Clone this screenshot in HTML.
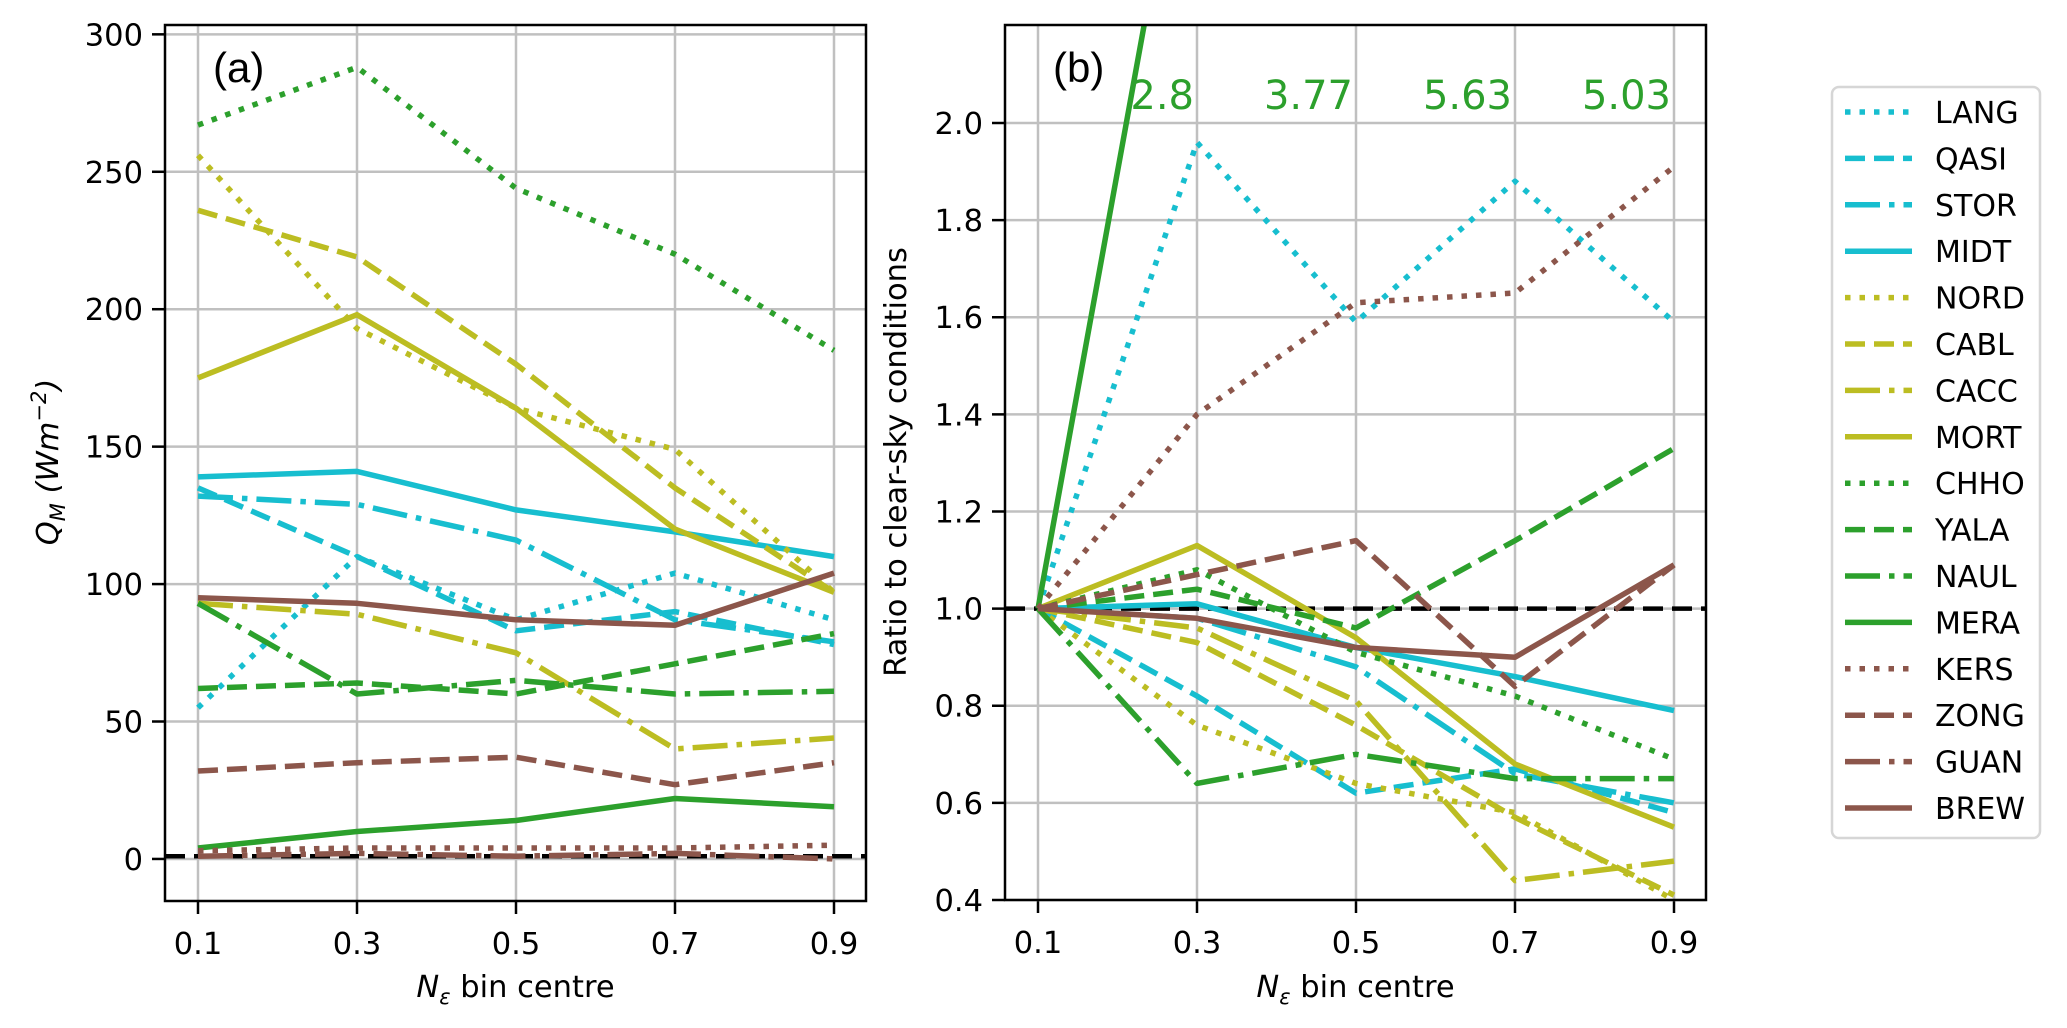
<!DOCTYPE html>
<html><head><meta charset="utf-8"><style>
html,body{margin:0;padding:0;background:#fff;}
svg{display:block;font-family:"DejaVu Sans","Liberation Sans",sans-serif;}
</style></head><body>
<svg id="fig" width="2067" height="1028" xmlns="http://www.w3.org/2000/svg"></svg>
<script>
const categories=[0.1,0.3,0.5,0.7,0.9];
const seriesNames=["LANG","QASI","STOR","MIDT","NORD","CABL","CACC","MORT","CHHO","YALA","NAUL","MERA","KERS","ZONG","GUAN","BREW"];
const qmLANG=[55,110,87,104,87];
const qmQASI=[135,110,83,90,78];
const qmSTOR=[132,129,116,87,79];
const qmMIDT=[139,141,127,119,110];
const qmNORD=[256,193,164,149,97];
const qmCABL=[236,219,180,135,97];
const qmCACC=[93,89,75,40,44];
const qmMORT=[175,198,164,120,97];
const qmCHHO=[267,288,244,220,185];
const qmYALA=[62,64,60,71,82];
const qmNAUL=[93,60,65,60,61];
const qmMERA=[4,10,14,22,19];
const qmKERS=[3,4,4,4,5];
const qmZONG=[32,35,37,27,35];
const qmGUAN=[1,2,1,2,0];
const qmBREW=[95,93,87,85,104];
const rLANG=[1,1.96,1.59,1.88,1.59];
const rQASI=[1,0.82,0.62,0.67,0.58];
const rSTOR=[1,0.98,0.88,0.66,0.60];
const rMIDT=[1,1.01,0.92,0.86,0.79];
const rNORD=[1,0.76,0.64,0.58,0.40];
const rCABL=[1,0.93,0.76,0.57,0.41];
const rCACC=[1,0.96,0.81,0.44,0.48];
const rMORT=[1,1.13,0.94,0.68,0.55];
const rCHHO=[1,1.08,0.91,0.82,0.69];
const rYALA=[1,1.04,0.96,1.14,1.33];
const rNAUL=[1,0.64,0.70,0.65,0.65];
const rMERA=[1,2.8,3.77,5.63,5.03];
const rKERS=[1,1.40,1.63,1.65,1.91];
const rZONG=[1,1.07,1.14,0.84,1.09];
const rGUAN=[null,null,null,null,null];
const rBREW=[1,0.98,0.92,0.90,1.09];
const meraLabels=["2.8","3.77","5.63","5.03"];
const ticksA=[0,50,100,150,200,250,300];
const ticksB=[0.4,0.6,0.8,1.0,1.2,1.4,1.6,1.8,2.0];

const qm=[qmLANG,qmQASI,qmSTOR,qmMIDT,qmNORD,qmCABL,qmCACC,qmMORT,qmCHHO,qmYALA,qmNAUL,qmMERA,qmKERS,qmZONG,qmGUAN,qmBREW];
const rr=[rLANG,rQASI,rSTOR,rMIDT,rNORD,rCABL,rCACC,rMORT,rCHHO,rYALA,rNAUL,rMERA,rKERS,rZONG,rGUAN,rBREW];
const cols=["#17becf","#bcbd22","#2ca02c","#8c564b"];
const dashes=["5.5 9","20 9","35 9 5.5 9",""];
const NS="http://www.w3.org/2000/svg";
const svg=document.getElementById('fig');
function el(tag,attrs,parent){const e=document.createElementNS(NS,tag);for(const k in attrs)e.setAttribute(k,attrs[k]);(parent||svg).appendChild(e);return e;}

function panel(p){
  const g=el('g',{});
  
  
  const X=v=>p.x0+(v-0.1)/0.8*(p.x1-p.x0);
  const Y=v=>p.yb-(v-p.ymin)/(p.ymax-p.ymin)*(p.yb-p.yt);
  const cid='clip'+p.id;
  const cp=el('clipPath',{id:cid},g);
  el('rect',{x:p.L,y:p.yt,width:p.R-p.L,height:p.yb-p.yt},cp);
  categories.forEach(c=>{const l=el('line',{x1:X(c),x2:X(c),y1:p.yt,y2:p.yb,stroke:'#c0c0c0','stroke-width':2.5},g);
    
    const t=el('text',{x:X(c),y:p.yb+53,'font-size':30.5,'text-anchor':'middle',fill:'#000'},g);t.textContent=c.toFixed(1);
    
    el('line',{x1:X(c),x2:X(c),y1:p.yb,y2:p.yb+13,stroke:'#000','stroke-width':2.5},g);});
  p.ticks.forEach(v=>{const y=Y(v);const l=el('line',{x1:p.L,x2:p.R,y1:y,y2:y,stroke:'#c0c0c0','stroke-width':2.5},g);
    
    el('line',{x1:p.L-13,x2:p.L,y1:y,y2:y,stroke:'#000','stroke-width':2.5},g);
    const t=el('text',{x:p.L-22,y:y+11,'font-size':30.5,'text-anchor':'end',fill:'#000'},g);t.textContent=p.fmt(v);
    });
  const ref=el('line',{x1:p.L,x2:p.R,y1:Y(p.ref),y2:Y(p.ref),stroke:'#000','stroke-width':4.5,'stroke-dasharray':'20 9'},g);
  
  const lg=el('g',{'clip-path':'url(#'+cid+')'},g);
  p.data.forEach((arr,i)=>{
    const pts=[];arr.forEach((v,j)=>{if(v!==null)pts.push(X(categories[j]).toFixed(1)+','+Y(v).toFixed(1));});
    if(pts.length<2)return;
    const a={points:pts.join(' '),fill:'none',stroke:cols[Math.floor(i/4)],'stroke-width':5.5,'stroke-linejoin':'round'};
    if(dashes[i%4])a['stroke-dasharray']=dashes[i%4];
    const pl=el('polyline',a,lg);
    
    
  });
  const fr=el('rect',{x:p.L,y:p.yt,width:p.R-p.L,height:p.yb-p.yt,fill:'none',stroke:'#000','stroke-width':2.5},g);
  
  const pl=el('text',{x:p.L+48,y:p.yt+57,'font-size':42,fill:'#000','font-family':'Liberation Sans, sans-serif'},g);pl.textContent=p.label;
  
  const xt=el('text',{x:(p.L+p.R)/2,y:997,'font-size':30.5,'text-anchor':'middle',fill:'#000'},g);
  xt.innerHTML='<tspan font-style="italic">N</tspan><tspan font-style="italic" font-size="21" dy="7">ε</tspan><tspan dy="-7"> bin centre</tspan>';
  
  return {X,Y,g};
}
const A=panel({id:'a',name:'panel-a',L:165,R:866,x0:198,x1:834,yt:25,yb:901,ymin:-15.3,ymax:303.4,ticks:ticksA,fmt:v=>String(v),ref:1,data:qm,label:'(a)'});
const B=panel({id:'b',name:'panel-b',L:1005,R:1706,x0:1038,x1:1674,yt:25,yb:900,ymin:0.4,ymax:2.2018,ticks:ticksB,fmt:v=>v.toFixed(1),ref:1,data:rr,label:'(b)'});
meraLabels.forEach((s,j)=>{const t=el('text',{x:B.X(categories[j+1])-3,y:109,'font-size':40,'text-anchor':'end',fill:'#2ca02c'},B.g);t.textContent=s;
  });
const ya=el('text',{transform:'translate(58,462) rotate(-90)','font-size':30.5,'text-anchor':'middle',fill:'#000'});
ya.innerHTML='<tspan font-style="italic">Q</tspan><tspan font-style="italic" font-size="21" dy="7">M</tspan><tspan dy="-7" font-style="italic"> (Wm</tspan><tspan font-style="italic" font-size="21" dy="-12">−2</tspan><tspan dy="12" font-style="italic">)</tspan>';

const yb=el('text',{transform:'translate(906,462) rotate(-90)','font-size':30.5,'text-anchor':'middle',fill:'#000'});
yb.textContent='Ratio to clear-sky conditions';

const leg=el('g',{});

el('rect',{x:1832,y:87,width:208,height:751,rx:7,fill:'#fff',stroke:'#d6d6d6','stroke-width':2.5},leg);
seriesNames.forEach((n,i)=>{const y=112+i*46.4;const e=el('g',{},leg);
  
  const a={x1:1845,x2:1912,y1:y,y2:y,stroke:cols[Math.floor(i/4)],'stroke-width':5.5};
  if(dashes[i%4])a['stroke-dasharray']=dashes[i%4];el('line',a,e);
  const t=el('text',{x:1935,y:y+11,'font-size':30,fill:'#000'},e);t.textContent=n;});
</script>
</body></html>
